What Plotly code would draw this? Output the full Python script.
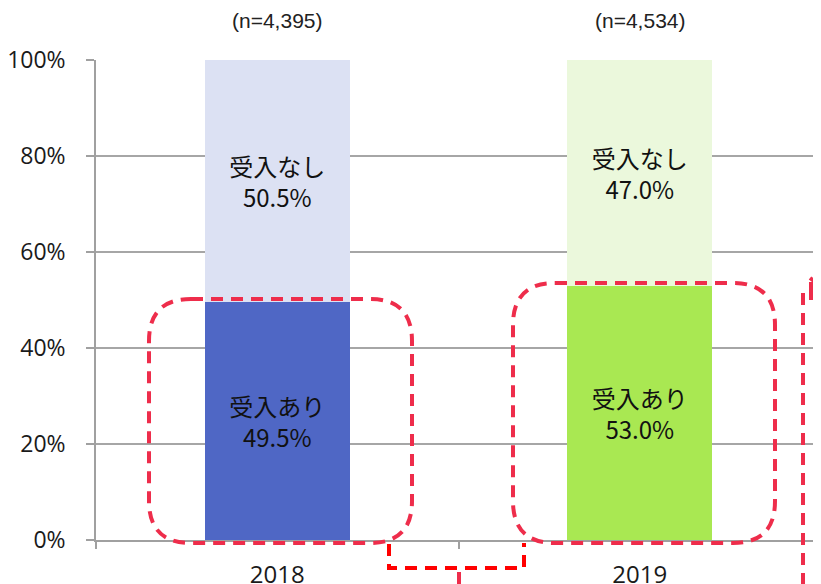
import plotly.graph_objects as go

# ---- data ----
years = ["2018", "2019"]
n_labels = ["(n=4,395)", "(n=4,534)"]
accept_pct = [49.5, 53.0]
no_accept_pct = [50.5, 47.0]
accept_name = "受入あり"
no_accept_name = "受入なし"
accept_colors = ["#4F67C5", "#A9E852"]
no_accept_colors = ["#DCE1F3", "#EBF8DC"]
y_ticks = [0, 20, 40, 60, 80, 100]
y_ticktext = [f"{v}%\u00a0\u00a0\u2009" for v in y_ticks]

W, H = 821, 584
OFF = 8  # page body margin
# plot area in page pixels: x 96..821, y 60..540
PL, PR, PT, PB = 96, 821, 60, 540
PW, PH = PR - PL, PB - PT
L = PL - OFF
T = PT - OFF
R = W - (PR - OFF)
B = H - (PB - OFF)

def px(x):
    return (x - PL) / PW

def py(y):
    return (PB - y) / PH

def P(x, y):
    return f"{px(x):.5f},{py(y):.5f}"

fig = go.Figure()
for vals, name, cols in [(accept_pct, accept_name, accept_colors),
                         (no_accept_pct, no_accept_name, no_accept_colors)]:
    fig.add_trace(go.Bar(
        x=years, y=vals, name=name,
        marker=dict(color=cols, line=dict(width=0)),
        text=[f"{name}<br>{v:.1f}%" for v in vals],
        textposition="inside", insidetextanchor="middle", textangle=0,
        constraintext="none",
        textfont=dict(family="Noto Sans CJK JP", size=24, color="#111111"),
        width=0.4,
    ))

for i, lab in enumerate(n_labels):
    fig.add_annotation(x=i, xref="x", y=py(21), yref="paper", text=lab,
                       showarrow=False, xanchor="center", yanchor="middle",
                       font=dict(family="Liberation Sans", size=21, color="#222222"))

def rrect(x0, y0, x1, y1, r):
    return (f"M {P(x0 + r, y0)} L {P(x1 - r, y0)} Q {P(x1, y0)} {P(x1, y0 + r)} "
            f"L {P(x1, y1 - r)} Q {P(x1, y1)} {P(x1 - r, y1)} "
            f"L {P(x0 + r, y1)} Q {P(x0, y1)} {P(x0, y1 - r)} "
            f"L {P(x0, y0 + r)} Q {P(x0, y0)} {P(x0 + r, y0)} Z")

crimson = "#EE2D4B"
dash = "12px,8px"
fig.add_shape(type="path", xref="paper", yref="paper",
              path=rrect(149, 299, 412, 543, 42),
              line=dict(color=crimson, width=4, dash=dash))
fig.add_shape(type="path", xref="paper", yref="paper",
              path=rrect(513, 283, 775, 543, 42),
              line=dict(color=crimson, width=4, dash=dash))

# connector (red)
fig.add_shape(type="path", xref="paper", yref="paper",
              path=f"M {P(389, 544)} L {P(389, 568)} L {P(524, 568)} L {P(524, 543)}",
              line=dict(color="#FF0000", width=4, dash=dash))
fig.add_shape(type="line", xref="paper", yref="paper",
              x0=px(459), y0=py(572), x1=px(459), y1=py(590),
              line=dict(color=crimson, width=4, dash=dash))
# right vertical arrow
fig.add_shape(type="line", xref="paper", yref="paper",
              x0=px(803), y0=py(293), x1=px(803), y1=py(590),
              line=dict(color=crimson, width=4, dash=dash))
fig.add_shape(type="path", xref="paper", yref="paper",
              path=f"M {P(811, 300)} L {P(811, 282)} M {P(810, 278)} L {P(819, 285)} L {P(811, 292)}",
              line=dict(color=crimson, width=4))

fig.update_layout(
    width=W, height=H,
    margin=dict(l=L, r=R, t=T, b=B, pad=0),
    barmode="stack", showlegend=False,
    plot_bgcolor="white", paper_bgcolor="white",
    font=dict(family="Open Sans", size=23, color="#1a1a1a"),
    xaxis=dict(type="category", range=[-0.5, 1.5], tickson="boundaries",
               ticks="outside", ticklen=7, tickcolor="#A0A0A0", tickwidth=2,
               showline=True, linecolor="#A0A0A0", linewidth=2,
               ticklabelstandoff=12, automargin=False,
               showgrid=False, tickfont=dict(family="Open Sans", size=24, color="#1a1a1a")),
    yaxis=dict(range=[0, 100], tickmode="array", tickvals=y_ticks, ticktext=y_ticktext,
               ticks="outside", ticklen=8, tickcolor="#A0A0A0", tickwidth=2,
               showline=True, linecolor="#A0A0A0", linewidth=2, automargin=False,
               gridcolor="#A6A6A6", gridwidth=2, zeroline=False,
               tickfont=dict(family="Open Sans", size=23, color="#1a1a1a")),
)

fig.write_html("out.html")
